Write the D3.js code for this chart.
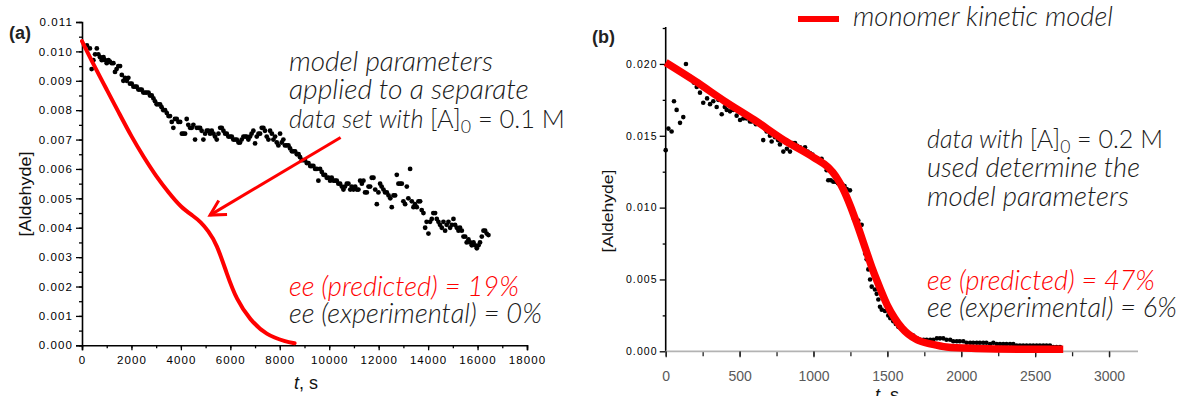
<!DOCTYPE html>
<html><head><meta charset="utf-8">
<script src="https://cdn.jsdelivr.net/npm/d3@7"></script>
<style>
html,body{margin:0;padding:0;background:#fff;}
svg{display:block;}
</style></head>
<body>
<svg id="c" width="1181" height="396"></svg>
<script>
// ---------- DATA ----------
// Panel (a): experimental points, [A]0 = 0.1 M
const aTime = [200,320,390,460,530,600,660,730,800,870,930,1000,1070,1130,1200,1270,1335,1400,1470,1540,1610,1672,1740,1810,1875,1940,2010,2080,2150,2213,2280,2350,2415,2480,2550,2618,2690,2750,2820,2890,2955,3020,3090,3157,3220,3290,3360,3430,3500,3560,3630,3695,3760,3830,3900,3970,4040,4100,4170,4235,4300,4370,4440,4505,4573,4640,4710,4775,4840,4910,4980,5045,5110,5180,5248,5320,5380,5450,5520,5590,5653,5720,5790,5855,5920,5990,6058,6120,6190,6260,6330,6393,6460,6530,6596,6660,6730,6798,6860,6932,7000,7070,7140,7203,7270,7337,7400,7472,7540,7607,7680,7742,7810,7877,7944,8012,8080,8145,8210,8280,8350,8417,8490,8552,8620,8690,8760,8821,8890,8960,9020,9090,9160,9230,9290,9360,9430,9500,9562,9630,9700,9765,9833,9900,9970,10035,10100,10170,10240,10305,10370,10440,10510,10575,10640,10710,10777,10850,10910,10980,11050,11120,11182,11250,11320,11385,11450,11520,11590,11655,11720,11790,11860,11925,11990,12058,12120,12193,12260,12330,12400,12470,12530,12600,12665,12733,12800,12870,12936,13000,13070,13138,13200,13272,13340,13407,13470,13542,13610,13677,13740,13812,13880,13940,14013,14080,14149,14210,14283,14350,14417,14480,14553,14620,14688,14750,14822,14890,14960,15025,15090,15160,15230,15290,15363,15430,15498,15560,15632,15700,15765,15835,15900,15970,16040,16100,16172,16240,16306,16370,16440];
const aConc = [0.0102,0.0101,0.0094,0.0097,0.0099,0.0101,0.0099,0.0098,0.0097,0.0098,0.0097,0.0096,0.0097,0.00965,0.0096,0.0096,0.0093,0.0094,0.0095,0.0095,0.0092,0.0090,0.0091,0.0090,0.0091,0.0089,0.0089,0.0088,0.0088,0.0088,0.0087,0.0087,0.0087,0.0086,0.0086,0.0086,0.0086,0.0085,0.0085,0.0084,0.0083,0.0082,0.0082,0.0082,0.0081,0.0080,0.0080,0.0079,0.0078,0.0078,0.0076,0.0074,0.0077,0.0077,0.0076,0.0076,0.0072,0.0072,0.0072,0.0077,0.0075,0.0074,0.0074,0.0075,0.0070,0.0074,0.0074,0.0074,0.0073,0.0070,0.0072,0.0073,0.0073,0.0072,0.0073,0.0072,0.0071,0.0070,0.0072,0.0074,0.0074,0.0073,0.0072,0.0072,0.0071,0.0071,0.0071,0.0070,0.0070,0.0070,0.0069,0.0069,0.0070,0.0071,0.0071,0.0071,0.0070,0.0071,0.0072,0.0073,0.00687,0.0071,0.0072,0.0072,0.0074,0.0074,0.0073,0.0071,0.0070,0.0073,0.0072,0.0070,0.0071,0.0069,0.0068,0.0072,0.0069,0.0070,0.0068,0.0068,0.0068,0.0067,0.0066,0.0066,0.0066,0.0065,0.0065,0.0064,0.0063,0.0063,0.0063,0.0062,0.0062,0.0061,0.0061,0.0061,0.0060,0.0060,0.0056,0.0060,0.0059,0.0058,0.0058,0.0057,0.0057,0.0056,0.0057,0.0056,0.0056,0.0056,0.0055,0.0055,0.0054,0.0053,0.0054,0.0055,0.0055,0.0053,0.0054,0.0053,0.0054,0.0053,0.0053,0.0056,0.0055,0.0056,0.0052,0.0052,0.0054,0.0054,0.0057,0.0057,0.0053,0.0048,0.0052,0.0055,0.0054,0.0053,0.0052,0.0052,0.0051,0.0050,0.0047,0.0051,0.0051,0.0058,0.0055,0.0055,0.0055,0.0049,0.0048,0.0054,0.0050,0.0060,0.0049,0.0047,0.0048,0.0047,0.0049,0.0049,0.0046,0.0045,0.0040,0.0042,0.0038,0.0042,0.0043,0.0045,0.0045,0.0043,0.0042,0.0041,0.0040,0.0042,0.0039,0.0041,0.0042,0.0040,0.0041,0.0043,0.0041,0.0040,0.0039,0.0040,0.0039,0.0037,0.0037,0.0035,0.0036,0.0035,0.0034,0.0035,0.0034,0.0033,0.0034,0.0035,0.0037,0.0039,0.0039,0.0038,0.00375];
// Panel (a): model prediction
const aModelTime = [0,500,1000,1500,2000,2500,3000,3500,4000,4500,4800,5100,5450,5850,6250,6800,7450,8250,8600];
const aModelConc = [0.01035,0.0095,0.0087,0.0079,0.0071,0.0064,0.00575,0.0052,0.0047,0.0044,0.0042,0.0039,0.00345,0.00245,0.00155,0.00086,0.00035,0.00012,0.00007];

// Panel (b): experimental points, [A]0 = 0.2 M
const bTime = [0,18,40,56,74,97,119,137,164,190,210,232,254,280,300,322,345,356,379,400,413,435,457,480,503,525,548,570,582,610,638,660,683,705,717,740,760,773,796,820,841,860,875,890,909,925,943,960,976,993,1010,1030,1055,1070,1089,1100,1117,1134,1150,1165,1179,1195,1210,1225,1247,1260,1270,1290,1303,1326,1337,1350,1360,1371,1383,1394,1416,1428,1439,1450,1462,1484,1506,1520,1540,1557,1574,1590,1608,1630,1650,1675,1700,1720,1745,1766,1790,1811,1835,1856,1878,1900,1925,1946,1970,1990,2014,2036,2060,2081,2105,2126,2149,2170,2195,2217,2240,2262,2284,2306,2330,2352,2375,2397,2419,2442,2465,2487,2510,2532,2555,2577,2600,2622,2645,2668];
const bConc = [0.0140,0.0155,0.0153,0.0174,0.0168,0.0159,0.0163,0.0200,0.0191,0.0187,0.0184,0.0180,0.0173,0.0176,0.0172,0.0174,0.0170,0.0175,0.0165,0.0170,0.0168,0.0167,0.0168,0.0164,0.0161,0.0162,0.0162,0.0160,0.0160,0.0158,0.0159,0.0147,0.0153,0.0150,0.0146,0.0149,0.0147,0.0144,0.0139,0.0141,0.0139,0.0145,0.0145,0.0143,0.0142,0.0140,0.0142,0.0139,0.0138,0.0137,0.0135,0.0134,0.0134,0.0131,0.0126,0.0119,0.0119,0.0118,0.0118,0.0117,0.0117,0.0116,0.0115,0.0113,0.0112,0.0100,0.0093,0.0092,0.0091,0.0088,0.0074,0.0068,0.0064,0.0057,0.0050,0.0045,0.0043,0.0040,0.0036,0.0031,0.0029,0.0028,0.0025,0.0023,0.0021,0.0019,0.0017,0.0016,0.0015,0.0013,0.0012,0.0011,0.0009,0.0008,0.0008,0.0008,0.0008,0.0008,0.0009,0.0009,0.0009,0.0008,0.0008,0.0007,0.0007,0.0007,0.0007,0.0006,0.0006,0.0006,0.0006,0.0006,0.0006,0.0006,0.0005,0.0006,0.0005,0.0005,0.0005,0.0005,0.0005,0.0005,0.0004,0.0004,0.0004,0.0004,0.0004,0.0004,0.0004,0.0004,0.0004,0.0004,0.0004,0.0003,0.0003,0.0003];
// Panel (b): monomer kinetic model
const bModelTime = [0,200,400,600,800,1000,1100,1150,1200,1250,1300,1350,1400,1450,1500,1550,1600,1700,1800,1900,2100,2400,2690];
const bModelConc = [0.0201,0.0188,0.0174,0.0161,0.0147,0.0135,0.0128,0.0122,0.0113,0.0101,0.0087,0.0072,0.0057,0.0044,0.0032,0.0023,0.0016,0.0008,0.0005,0.0003,0.0002,0.00015,0.00015];

// Ticks
const aXTicks = [0,2000,4000,6000,8000,10000,12000,14000,16000,18000];
const aYTicks = [0.000,0.001,0.002,0.003,0.004,0.005,0.006,0.007,0.008,0.009,0.010,0.011];
const bXTicks = [0,500,1000,1500,2000,2500,3000];
const bYTicks = [0.000,0.005,0.010,0.015,0.020];

// Text
const aAnnot = ["model parameters","applied to a separate"];
const bAnnot = ["used determine the","model parameters"];
const legendLabel = "monomer kinetic model";

// ---------- DRAW ----------
const svg = d3.select("#c");
const RED = "#ff0000";
const ANN_FONT = "Lato, 'Open Sans', sans-serif";
const AX_FONT = "'Liberation Sans', Arial, sans-serif";

function fit(sel, target){
  const n = sel.node();
  const fs = parseFloat(sel.attr("font-size"));
  const w = n.getComputedTextLength();
  if (w>0) sel.attr("font-size", fs*target/w);
  return sel;
}

// ===== Panel (a) =====
const xa = d3.scaleLinear().domain([0,18000]).range([82,527]);
const ya = d3.scaleLinear().domain([0,0.011]).range([345.3,22]);

const gYa = svg.append("g").attr("transform",`translate(${xa(0)},0)`);
gYa.call(d3.axisLeft(ya).tickValues(d3.range(0,0.01101,0.0005)).tickSize(3).tickFormat(""));
gYa.select("path").remove();
const gYa2 = svg.append("g").attr("transform",`translate(${xa(0)},0)`)
  .call(d3.axisLeft(ya).tickValues(aYTicks).tickSize(6).tickPadding(3).tickFormat(d3.format(".3f")));
const gXa = svg.append("g").attr("transform",`translate(0,${ya(0)})`)
  .call(d3.axisBottom(xa).tickValues(d3.range(0,18001,1000)).tickSize(3).tickFormat(""));
gXa.select("path").remove();
const gXa2 = svg.append("g").attr("transform",`translate(0,${ya(0)})`)
  .call(d3.axisBottom(xa).tickValues(aXTicks).tickSize(5).tickPadding(6).tickFormat(d3.format("d")));
[gYa,gYa2,gXa,gXa2].forEach(g=>{
  g.selectAll("path.domain").attr("stroke","#000").attr("stroke-width",1.6);
  g.selectAll("line").attr("stroke","#000").attr("stroke-width",1.3);
  g.selectAll("text").attr("font-family",AX_FONT)
    .attr("font-size",11.5).attr("letter-spacing","1.1px").attr("fill","#000");
});

svg.append("g").selectAll("circle").data(d3.zip(aTime,aConc)).join("circle")
  .attr("cx",d=>xa(d[0])).attr("cy",d=>ya(d[1])).attr("r",2.4).attr("fill","#000");
svg.append("path").datum(d3.zip(aModelTime,aModelConc))
  .attr("fill","none").attr("stroke",RED).attr("stroke-width",4).attr("stroke-linecap","round")
  .attr("d",d3.line().x(d=>xa(d[0])).y(d=>ya(d[1])).curve(d3.curveBasis));

// arrow (annotation, in data units)
const arrowFrom = [10460,0.00707], arrowTo = [5180,0.00443];
const ax1=xa(arrowFrom[0]), ay1=ya(arrowFrom[1]), ax2=xa(arrowTo[0]), ay2=ya(arrowTo[1]);
const ang = Math.atan2(ay1-ay2, ax1-ax2);
const hl = 17, hw = 0.5;
svg.append("line").attr("x1",ax1).attr("y1",ay1).attr("x2",ax2).attr("y2",ay2)
  .attr("stroke",RED).attr("stroke-width",3);
svg.append("path")
  .attr("d",`M${ax2+hl*Math.cos(ang+hw)},${ay2+hl*Math.sin(ang+hw)} L${ax2},${ay2} L${ax2+hl*Math.cos(ang-hw)},${ay2+hl*Math.sin(ang-hw)}`)
  .attr("fill","none").attr("stroke",RED).attr("stroke-width",3).attr("stroke-linejoin","miter");

svg.append("text").attr("x",9).attr("y",39).attr("font-family",AX_FONT)
  .attr("font-weight","bold").attr("font-size",18).attr("fill","#222").text("(a)");
svg.append("text").attr("transform","translate(31,194) rotate(-90)").attr("text-anchor","middle")
  .attr("font-family",AX_FONT).attr("font-size",16).attr("fill","#111")
  .attr("textLength",85).attr("lengthAdjust","spacingAndGlyphs").text("[Aldehyde]");
const ta = svg.append("text").attr("x",306).attr("y",389).attr("text-anchor","middle")
  .attr("font-family",AX_FONT).attr("font-size",18).attr("fill","#111");
ta.append("tspan").attr("font-style","italic").text("t");
ta.append("tspan").text(", s");

function annot(x,y,txt,target,color){
  const t = svg.append("text").attr("x",x).attr("y",y).attr("font-family",ANN_FONT)
    .attr("font-style","italic").attr("font-weight",300).attr("font-size",20).attr("fill",color||"#1a1a1a").text(txt);
  fit(t,target);
  return t;
}
function annotSub(x,y,pre,sub,post,target){
  const t = svg.append("text").attr("x",x).attr("y",y).attr("font-family",ANN_FONT)
    .attr("font-weight",300).attr("font-size",20).attr("fill","#1a1a1a");
  t.append("tspan").attr("font-style","italic").text(pre);
  t.append("tspan").text("[A]");
  t.append("tspan").attr("font-size","70%").attr("dy",5).text(sub);
  t.append("tspan").attr("dy",-5).text(post);
  fit(t,target);
  return t;
}
annot(289,70.5,aAnnot[0],204);
annot(289,99,aAnnot[1],240);
annotSub(289,128,"data set with ","0"," = 0.1 M",276);
annot(289,296,"ee (predicted) = 19%",230,RED);
annot(289,323,"ee (experimental) = 0%",253);

// ===== Panel (b) =====
const xb = d3.scaleLinear().domain([0,3196]).range([665.7,1138]);
const yb = d3.scaleLinear().domain([0,0.02257]).range([351.3,27]);

const gYb = svg.append("g").attr("transform",`translate(${xb(0)},0)`)
  .call(d3.axisLeft(yb).tickValues(d3.range(0.0025,0.0226,0.005)).tickSize(3).tickFormat(""));
gYb.select("path").remove();
const gYb2 = svg.append("g").attr("transform",`translate(${xb(0)},0)`)
  .call(d3.axisLeft(yb).tickValues(bYTicks).tickSize(6).tickPadding(2).tickFormat(d3.format(".3f")));
gYb2.select("path.domain").attr("d",`M0,${yb(0)}V${yb.range()[1]}`);
[gYb,gYb2].forEach(g=>{
  g.selectAll("path.domain").attr("stroke","#000").attr("stroke-width",1.6);
  g.selectAll("line").attr("stroke","#000").attr("stroke-width",1.3);
  g.selectAll("text").attr("font-family",AX_FONT)
    .attr("font-size",10.5).attr("letter-spacing","1.1px").attr("fill","#000");
});
const gXb = svg.append("g").attr("transform",`translate(0,${yb(0)})`)
  .call(d3.axisBottom(xb).tickValues(d3.range(0,3001,250)).tickSize(5).tickFormat(""));
gXb.select("path").remove();
const gXb2 = svg.append("g").attr("transform",`translate(0,${yb(0)})`)
  .call(d3.axisBottom(xb).tickValues(bXTicks).tickSize(6).tickPadding(14).tickFormat(d3.format("d")));
gXb2.select("path.domain").attr("d",`M${xb(0)},0H${xb.range()[1]}`).attr("stroke","#b3b3b3").attr("stroke-width",1.8);
[gXb,gXb2].forEach(g=>{
  g.selectAll("line").attr("stroke","#222").attr("stroke-width",1.3);
  g.selectAll("text").attr("font-family",AX_FONT)
    .attr("font-size",14).attr("fill","#595959");
});

svg.append("g").selectAll("circle").data(d3.zip(bTime,bConc)).join("circle")
  .attr("cx",d=>xb(d[0])).attr("cy",d=>yb(d[1])).attr("r",2.3).attr("fill","#000");
svg.append("path").datum(d3.zip(bModelTime,bModelConc))
  .attr("fill","none").attr("stroke",RED).attr("stroke-width",7.5)
  .attr("d",d3.line().x(d=>xb(d[0])).y(d=>yb(d[1])).curve(d3.curveMonotoneX));

svg.append("text").attr("x",592).attr("y",43).attr("font-family",AX_FONT)
  .attr("font-weight","bold").attr("font-size",18).attr("fill","#222").text("(b)");
svg.append("text").attr("transform","translate(613,211) rotate(-90)").attr("text-anchor","middle")
  .attr("font-family",AX_FONT).attr("font-size",15).attr("fill","#111")
  .attr("textLength",83).attr("lengthAdjust","spacingAndGlyphs").text("[Aldehyde]");
const tb = svg.append("text").attr("x",887).attr("y",401).attr("text-anchor","middle")
  .attr("font-family",AX_FONT).attr("font-size",18).attr("fill","#111");
tb.append("tspan").attr("font-style","italic").text("t");
tb.append("tspan").text(", s");

svg.append("line").attr("x1",798).attr("x2",839).attr("y1",19).attr("y2",19)
  .attr("stroke",RED).attr("stroke-width",6);
annot(853,26,legendLabel,260);

annotSub(927,148,"data with ","0"," = 0.2 M",236);
annot(927,177,bAnnot[0],213);
annot(927,206,bAnnot[1],202);
annot(927,290,"ee (predicted) = 47%",228,RED);
annot(927,317,"ee (experimental) = 6%",250);
</script>
</body></html>
